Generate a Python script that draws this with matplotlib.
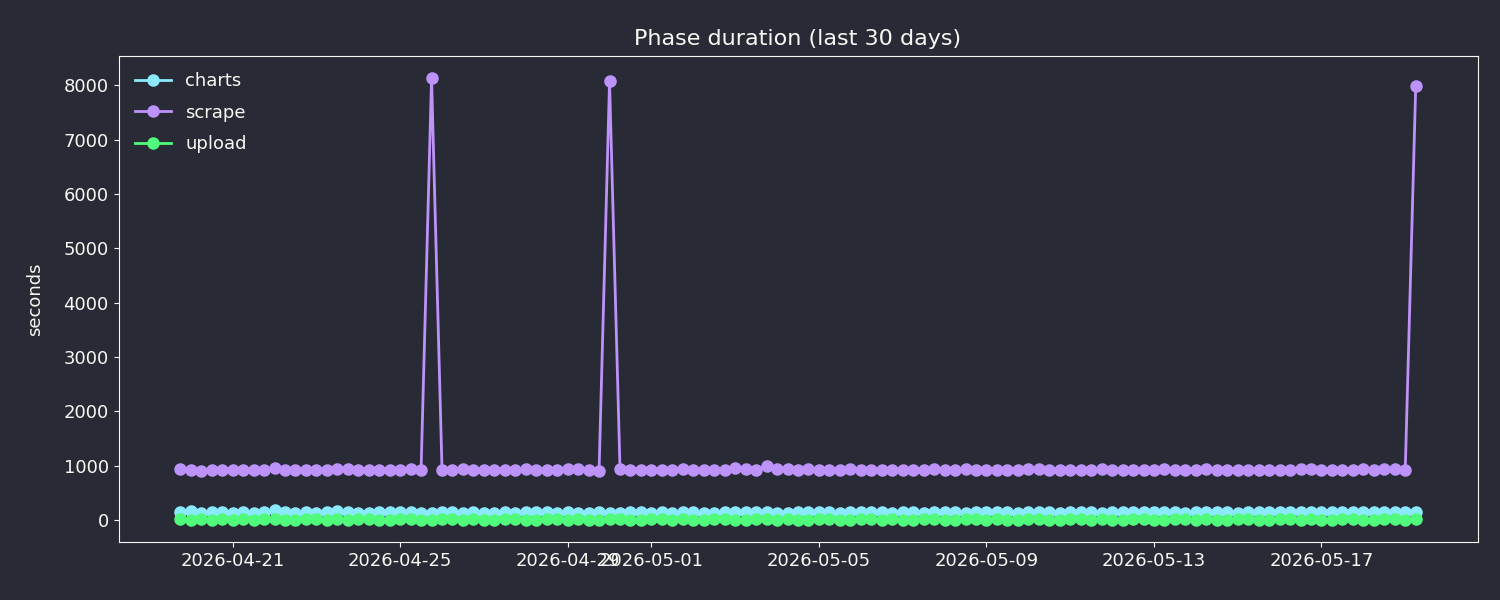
import matplotlib
matplotlib.use("Agg")
import matplotlib.pyplot as plt
import numpy as np
import datetime as dt

start = dt.datetime(2026, 4, 19, 18)
times = [start + dt.timedelta(hours=6 * i) for i in range(119)]

scrape = [930, 915, 910, 920, 915, 925, 920, 918, 925, 950, 920, 915, 918, 912, 920, 930, 935, 925, 915, 920,
          918, 922, 930, 925, 8140, 915, 920, 930, 920, 915, 918, 925, 920, 930, 920, 915, 925, 930, 935, 920,
          910, 8080, 930, 920, 915, 918, 925, 920, 930, 920, 915, 918, 920, 950, 940, 925, 1000, 940, 930, 925,
          930, 920, 915, 925, 930, 920, 915, 925, 918, 915, 920, 925, 930, 920, 925, 930, 920, 915, 918, 925,
          920, 930, 935, 925, 920, 915, 920, 925, 930, 920, 925, 918, 915, 920, 930, 920, 915, 925, 930, 920,
          915, 918, 925, 920, 915, 920, 925, 930, 935, 925, 920, 915, 920, 930, 925, 935, 930, 920, 7990]
charts = [150, 160, 130, 140, 150, 135, 140, 130, 145, 180, 140, 130, 145, 135, 140, 160, 140, 135, 130, 140,
          145, 150, 140, 135, 130, 140, 145, 130, 140, 135, 130, 140, 135, 140, 150, 140, 130, 140, 135, 130,
          140, 135, 130, 140, 150, 135, 140, 130, 145, 140, 135, 130, 140, 150, 140, 145, 140, 130, 135, 140,
          150, 145, 140, 135, 140, 150, 145, 140, 135, 150, 140, 135, 140, 145, 140, 135, 140, 150, 145, 140,
          135, 140, 150, 140, 135, 140, 145, 140, 135, 140, 150, 145, 140, 150, 145, 140, 135, 140, 145, 150,
          140, 135, 145, 150, 140, 145, 140, 150, 145, 140, 150, 145, 140, 150, 145, 140, 150, 145, 150]
upload = [10, 5, 15, 8, 12, 6, 10, 8, 12, 10, 5, 8, 10, 12, 6, 10, 8, 12, 10, 6,
          8, 10, 12, 8, 6, 10, 12, 8, 10, 6, 8, 12, 10, 8, 6, 10, 12, 8, 10, 6,
          8, 10, 12, 8, 6, 10, 12, 8, 10, 6, 8, 12, 10, 8, 6, 10, 12, 8, 10, 6,
          8, 10, 12, 8, 6, 10, 12, 8, 10, 6, 8, 12, 10, 8, 6, 10, 12, 8, 10, 6,
          8, 10, 12, 8, 6, 10, 12, 8, 10, 6, 8, 12, 10, 8, 6, 10, 12, 8, 10, 6,
          8, 10, 12, 8, 6, 10, 12, 8, 10, 6, 8, 12, 10, 8, 6, 10, 12, 8, 15]

bg = "#282a36"
fg = "#f8f8f2"
fig, ax = plt.subplots(figsize=(15, 6), dpi=100)
fig.patch.set_facecolor(bg)
ax.set_facecolor(bg)
for name, vals, c in [("charts", charts, "#8be9fd"), ("scrape", scrape, "#bd93f9"), ("upload", upload, "#50fa7b")]:
    ax.plot(times, vals, marker="o", color=c, label=name, markersize=8, linewidth=2)
ax.set_title("Phase duration (last 30 days)", color=fg, fontsize=16, pad=8)
ax.set_ylabel("seconds", color=fg, fontsize=13, labelpad=14)
ax.tick_params(colors=fg, labelsize=13)
for s in ax.spines.values():
    s.set_color(fg)
leg = ax.legend(loc="upper left", frameon=False, fontsize=13, labelspacing=0.75)
for t in leg.get_texts():
    t.set_color(fg)
fig.subplots_adjust(left=0.079, right=0.985, top=0.907, bottom=0.097)
fig.savefig("out.png", facecolor=bg)
